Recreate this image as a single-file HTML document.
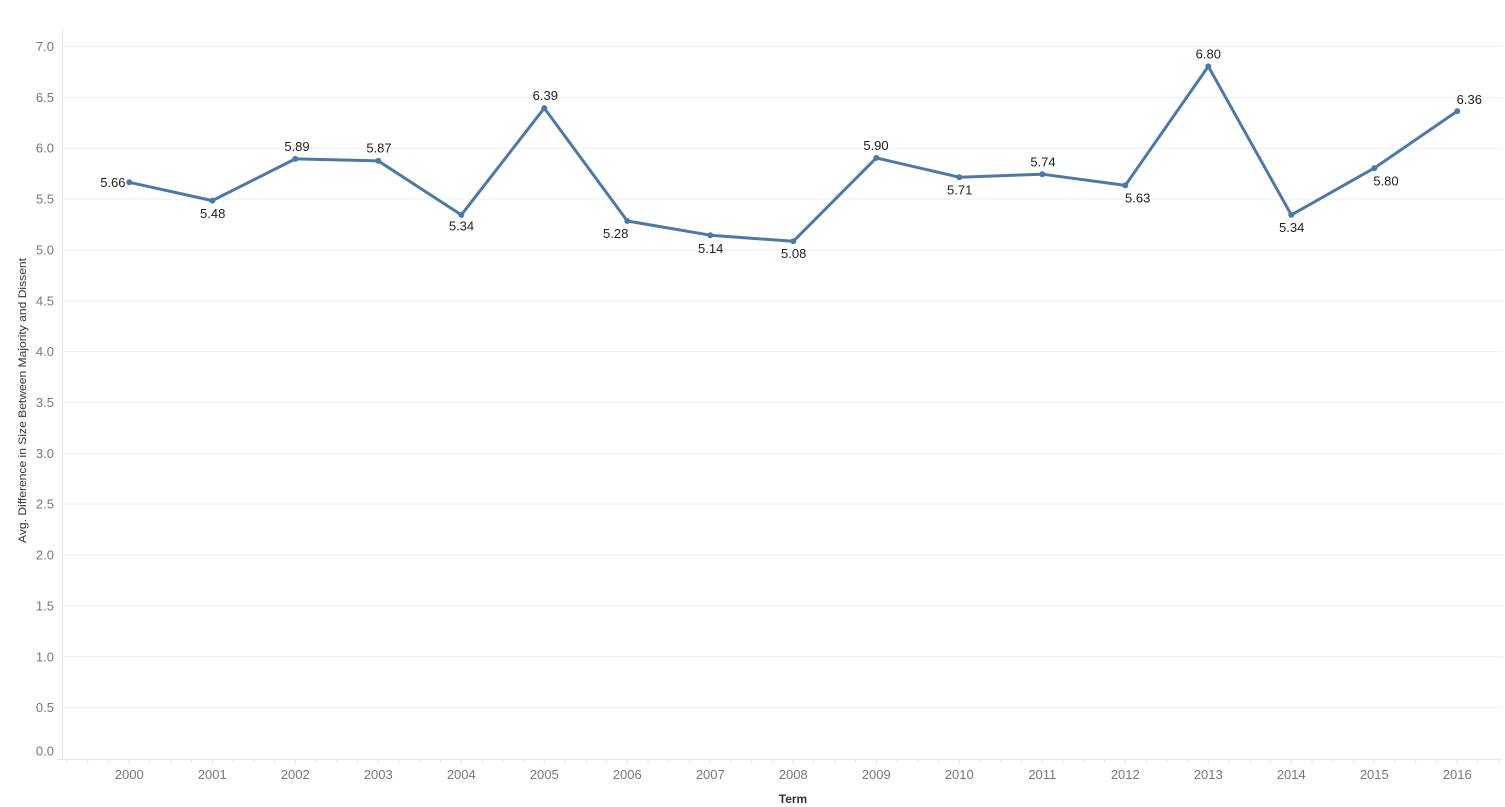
<!DOCTYPE html>
<html>
<head>
<meta charset="utf-8">
<style>
  html,body{margin:0;padding:0;background:#fff;}
  svg{display:block;}
  text{font-family:"Liberation Sans",Arial,sans-serif;}
</style>
</head>
<body>
<svg width="1505" height="807" viewBox="0 0 1505 807" xmlns="http://www.w3.org/2000/svg">
  <rect width="1505" height="807" fill="#fff"/>
  <!-- gridlines -->
  <g stroke="#efefef" stroke-width="1">
    <line x1="62" y1="46.5" x2="1503" y2="46.5"/>
    <line x1="62" y1="97.4" x2="1503" y2="97.4"/>
    <line x1="62" y1="148.2" x2="1503" y2="148.2"/>
    <line x1="62" y1="199.1" x2="1503" y2="199.1"/>
    <line x1="62" y1="249.9" x2="1503" y2="249.9"/>
    <line x1="62" y1="300.8" x2="1503" y2="300.8"/>
    <line x1="62" y1="351.6" x2="1503" y2="351.6"/>
    <line x1="62" y1="402.5" x2="1503" y2="402.5"/>
    <line x1="62" y1="453.4" x2="1503" y2="453.4"/>
    <line x1="62" y1="504.2" x2="1503" y2="504.2"/>
    <line x1="62" y1="555.1" x2="1503" y2="555.1"/>
    <line x1="62" y1="605.9" x2="1503" y2="605.9"/>
    <line x1="62" y1="656.8" x2="1503" y2="656.8"/>
    <line x1="62" y1="707.6" x2="1503" y2="707.6"/>
  </g>
  <!-- axes -->
  <line x1="62.5" y1="30" x2="62.5" y2="759" stroke="#e8e8e8" stroke-width="1"/>
  <line x1="57" y1="759.5" x2="1503" y2="759.5" stroke="#e8e8e8" stroke-width="1"/>
  <g stroke="#e8e8e8" stroke-width="1" id="ticks"></g>

  <!-- y tick labels -->
  <g font-size="13" fill="#777" text-anchor="end">
    <text x="54" y="51">7.0</text>
    <text x="54" y="102">6.5</text>
    <text x="54" y="152.7">6.0</text>
    <text x="54" y="203.6">5.5</text>
    <text x="54" y="254.4">5.0</text>
    <text x="54" y="305.3">4.5</text>
    <text x="54" y="356.1">4.0</text>
    <text x="54" y="407">3.5</text>
    <text x="54" y="457.9">3.0</text>
    <text x="54" y="508.7">2.5</text>
    <text x="54" y="559.6">2.0</text>
    <text x="54" y="610.4">1.5</text>
    <text x="54" y="661.3">1.0</text>
    <text x="54" y="712.1">0.5</text>
    <text x="54" y="755.5">0.0</text>
  </g>

  <!-- x tick labels -->
  <g font-size="13" fill="#777" text-anchor="middle">
    <text x="129.3" y="779">2000</text>
    <text x="212.3" y="779">2001</text>
    <text x="295.3" y="779">2002</text>
    <text x="378.3" y="779">2003</text>
    <text x="461.3" y="779">2004</text>
    <text x="544.3" y="779">2005</text>
    <text x="627.3" y="779">2006</text>
    <text x="710.3" y="779">2007</text>
    <text x="793.3" y="779">2008</text>
    <text x="876.3" y="779">2009</text>
    <text x="959.3" y="779">2010</text>
    <text x="1042.3" y="779">2011</text>
    <text x="1125.3" y="779">2012</text>
    <text x="1208.3" y="779">2013</text>
    <text x="1291.3" y="779">2014</text>
    <text x="1374.3" y="779">2015</text>
    <text x="1457.3" y="779">2016</text>
  </g>

  <!-- axis titles -->
  <text x="793" y="803" font-size="12" font-weight="bold" fill="#333" text-anchor="middle">Term</text>
  <text transform="translate(26,400.5) rotate(-90)" font-size="11" fill="#333" text-anchor="middle" textLength="285" lengthAdjust="spacingAndGlyphs">Avg. Difference in Size Between Majority and Dissent</text>

  <!-- series -->
  <polyline fill="none" stroke="#4e79a7" stroke-width="3" stroke-linejoin="round" stroke-linecap="round"
    points="129.3,182.3 212.3,200.6 295.3,158.9 378.3,160.9 461.3,214.9 544.3,108.1 627.3,221.0 710.3,235.2 793.3,241.3 876.3,157.9 959.3,177.2 1042.3,174.2 1125.3,185.4 1208.3,66.4 1291.3,214.9 1374.3,168.1 1457.3,111.1"/>
  <g fill="#4e79a7">
    <circle cx="129.3" cy="182.3" r="3"/>
    <circle cx="212.3" cy="200.6" r="3"/>
    <circle cx="295.3" cy="158.9" r="3"/>
    <circle cx="378.3" cy="160.9" r="3"/>
    <circle cx="461.3" cy="214.9" r="3"/>
    <circle cx="544.3" cy="108.1" r="3"/>
    <circle cx="627.3" cy="221.0" r="3"/>
    <circle cx="710.3" cy="235.2" r="3"/>
    <circle cx="793.3" cy="241.3" r="3"/>
    <circle cx="876.3" cy="157.9" r="3"/>
    <circle cx="959.3" cy="177.2" r="3"/>
    <circle cx="1042.3" cy="174.2" r="3"/>
    <circle cx="1125.3" cy="185.4" r="3"/>
    <circle cx="1208.3" cy="66.4" r="3"/>
    <circle cx="1291.3" cy="214.9" r="3"/>
    <circle cx="1374.3" cy="168.1" r="3"/>
    <circle cx="1457.3" cy="111.1" r="3"/>
  </g>

  <!-- data labels -->
  <g font-size="13" fill="#222" text-anchor="middle">
    <text x="125.5" y="187.2" text-anchor="end">5.66</text>
    <text x="212.7" y="218">5.48</text>
    <text x="297" y="151.2">5.89</text>
    <text x="379" y="152.7">5.87</text>
    <text x="461.5" y="230.7">5.34</text>
    <text x="545.3" y="100">6.39</text>
    <text x="615.7" y="237.8">5.28</text>
    <text x="710.7" y="253.2">5.14</text>
    <text x="793.7" y="257.8">5.08</text>
    <text x="876" y="150">5.90</text>
    <text x="959.7" y="194.5">5.71</text>
    <text x="1043" y="166.5">5.74</text>
    <text x="1137.7" y="202.5">5.63</text>
    <text x="1208.3" y="58.5">6.80</text>
    <text x="1291.7" y="232">5.34</text>
    <text x="1386" y="185.5">5.80</text>
    <text x="1469.3" y="104">6.36</text>
  </g>

  <!-- minor ticks -->
  <g stroke="#e4e4e4" stroke-width="1">
    <line x1="67.1" y1="759" x2="67.1" y2="763"/><line x1="87.8" y1="759" x2="87.8" y2="763"/><line x1="108.6" y1="759" x2="108.6" y2="763"/><line x1="129.3" y1="759" x2="129.3" y2="764"/>
    <line x1="150.1" y1="759" x2="150.1" y2="763"/><line x1="170.8" y1="759" x2="170.8" y2="763"/><line x1="191.6" y1="759" x2="191.6" y2="763"/><line x1="212.3" y1="759" x2="212.3" y2="764"/>
    <line x1="233.1" y1="759" x2="233.1" y2="763"/><line x1="253.8" y1="759" x2="253.8" y2="763"/><line x1="274.6" y1="759" x2="274.6" y2="763"/><line x1="295.3" y1="759" x2="295.3" y2="764"/>
    <line x1="316.1" y1="759" x2="316.1" y2="763"/><line x1="336.8" y1="759" x2="336.8" y2="763"/><line x1="357.6" y1="759" x2="357.6" y2="763"/><line x1="378.3" y1="759" x2="378.3" y2="764"/>
    <line x1="399.1" y1="759" x2="399.1" y2="763"/><line x1="419.8" y1="759" x2="419.8" y2="763"/><line x1="440.6" y1="759" x2="440.6" y2="763"/><line x1="461.3" y1="759" x2="461.3" y2="764"/>
    <line x1="482.1" y1="759" x2="482.1" y2="763"/><line x1="502.8" y1="759" x2="502.8" y2="763"/><line x1="523.6" y1="759" x2="523.6" y2="763"/><line x1="544.3" y1="759" x2="544.3" y2="764"/>
    <line x1="565.1" y1="759" x2="565.1" y2="763"/><line x1="585.8" y1="759" x2="585.8" y2="763"/><line x1="606.6" y1="759" x2="606.6" y2="763"/><line x1="627.3" y1="759" x2="627.3" y2="764"/>
    <line x1="648.1" y1="759" x2="648.1" y2="763"/><line x1="668.8" y1="759" x2="668.8" y2="763"/><line x1="689.6" y1="759" x2="689.6" y2="763"/><line x1="710.3" y1="759" x2="710.3" y2="764"/>
    <line x1="731.1" y1="759" x2="731.1" y2="763"/><line x1="751.8" y1="759" x2="751.8" y2="763"/><line x1="772.6" y1="759" x2="772.6" y2="763"/><line x1="793.3" y1="759" x2="793.3" y2="764"/>
    <line x1="814.1" y1="759" x2="814.1" y2="763"/><line x1="834.8" y1="759" x2="834.8" y2="763"/><line x1="855.6" y1="759" x2="855.6" y2="763"/><line x1="876.3" y1="759" x2="876.3" y2="764"/>
    <line x1="897.1" y1="759" x2="897.1" y2="763"/><line x1="917.8" y1="759" x2="917.8" y2="763"/><line x1="938.6" y1="759" x2="938.6" y2="763"/><line x1="959.3" y1="759" x2="959.3" y2="764"/>
    <line x1="980.1" y1="759" x2="980.1" y2="763"/><line x1="1000.8" y1="759" x2="1000.8" y2="763"/><line x1="1021.6" y1="759" x2="1021.6" y2="763"/><line x1="1042.3" y1="759" x2="1042.3" y2="764"/>
    <line x1="1063.1" y1="759" x2="1063.1" y2="763"/><line x1="1083.8" y1="759" x2="1083.8" y2="763"/><line x1="1104.6" y1="759" x2="1104.6" y2="763"/><line x1="1125.3" y1="759" x2="1125.3" y2="764"/>
    <line x1="1146.1" y1="759" x2="1146.1" y2="763"/><line x1="1166.8" y1="759" x2="1166.8" y2="763"/><line x1="1187.6" y1="759" x2="1187.6" y2="763"/><line x1="1208.3" y1="759" x2="1208.3" y2="764"/>
    <line x1="1229.1" y1="759" x2="1229.1" y2="763"/><line x1="1249.8" y1="759" x2="1249.8" y2="763"/><line x1="1270.6" y1="759" x2="1270.6" y2="763"/><line x1="1291.3" y1="759" x2="1291.3" y2="764"/>
    <line x1="1312.1" y1="759" x2="1312.1" y2="763"/><line x1="1332.8" y1="759" x2="1332.8" y2="763"/><line x1="1353.6" y1="759" x2="1353.6" y2="763"/><line x1="1374.3" y1="759" x2="1374.3" y2="764"/>
    <line x1="1395.1" y1="759" x2="1395.1" y2="763"/><line x1="1415.8" y1="759" x2="1415.8" y2="763"/><line x1="1436.6" y1="759" x2="1436.6" y2="763"/><line x1="1457.3" y1="759" x2="1457.3" y2="764"/>
    <line x1="1478.1" y1="759" x2="1478.1" y2="763"/><line x1="1498.8" y1="759" x2="1498.8" y2="763"/>
  </g>
</svg>
</body>
</html>
